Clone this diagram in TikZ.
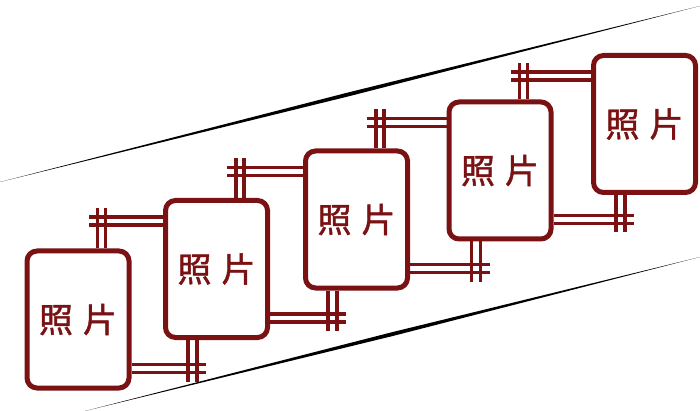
\documentclass[tikz,border=0pt]{standalone}
\usepackage{fontspec}
\newfontfamily\cjk[BoldFont={Noto Sans CJK SC}, BoldFeatures={FakeBold=1.3}]{Noto Sans CJK SC}
\usetikzlibrary{positioning}
\definecolor{frame}{RGB}{122,18,20}
\tikzset{
photo/.style={draw=frame, line width=5pt, rounded corners=10pt, fill=white,
    minimum width=102pt, minimum height=137pt, inner sep=0pt,
    font=\cjk\bfseries\fontsize{34}{34}\selectfont, text=frame},
bar/.style={draw=frame, line width=3.6pt}
}
\begin{document}
\begin{tikzpicture}[x=1pt,y=-1pt]
\useasboundingbox (0,0) rectangle (700,411);
% diagonal strokes
\fill (0,182) -- (350,92) -- (700,6) -- (350,96) -- cycle;
\fill (85,411) -- (392,332.2) -- (700,257) -- (392,336.2) -- cycle;

\node[photo] (p1) at (78,319.5) {照\hspace{10pt}片};
\node[photo] (p2) at (216.5,269) {照\hspace{10pt}片};
\node[photo] (p3) at (356.5,219.5) {照\hspace{10pt}片};
\node[photo] (p4) at (500,170.5) {照\hspace{10pt}片};
\node[photo] (p5) at (644.5,124) {照\hspace{10pt}片};

\foreach \i/\j in {1/2,2/3,3/4,4/5}{
  \path ([yshift=-10pt]p\j.north west) coordinate (top)
        ([xshift=64pt]p\i.north west) coordinate (lft)
        ([yshift=9pt]p\i.south east) coordinate (bot)
        ([xshift=43pt]p\j.south west) coordinate (rgt);
  % upper crossing
  \foreach \d in {73,81}{
    \path ([xshift=\d pt]p\i.north west) coordinate (s);
    \draw[bar] (s) -- (s |- top);
  }
  \foreach \d in {19,27}{
    \path ([yshift=-\d pt]p\j.north west) coordinate (s);
    \draw[bar] (s) -- (s -| lft);
  }
  % lower crossing
  \foreach \d in {26,18}{
    \path ([yshift=\d pt]p\i.south east) coordinate (s);
    \draw[bar] (s) -- (s -| rgt);
  }
  \foreach \d in {25,34}{
    \path ([xshift=\d pt]p\j.south west) coordinate (s);
    \draw[bar] (s) -- (s |- bot);
  }
}
\end{tikzpicture}
\end{document}
